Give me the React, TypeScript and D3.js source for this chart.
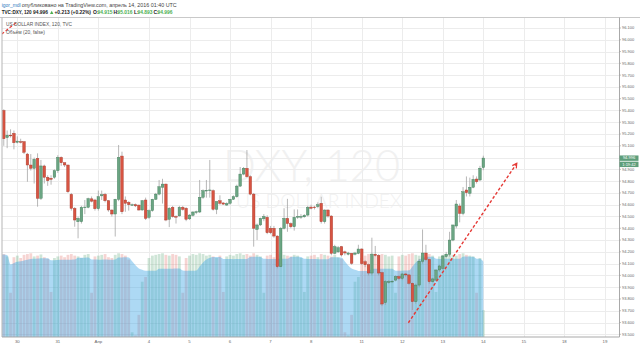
import React from 'react';
import * as d3 from 'd3';

const W = 640;
const H = 347;

// [open, high, low, close] per 2h bar
const candles: [number, number, number, number][] = [
  [95.90, 96.00, 95.35, 95.40], [95.40, 95.41, 95.10, 95.16], [95.17, 95.23, 95.08, 95.19], [95.19, 95.24, 95.17, 95.185],
  [95.206, 95.23, 95.07, 95.126], [95.13, 95.18, 95.12, 95.14], [95.135, 95.16, 95.12, 95.13], [95.135, 95.14, 95.03, 95.045],
  [95.03, 95.04, 94.795, 94.937], [94.937, 95.03, 94.89, 94.909], [94.909, 95.00, 94.78, 94.985], [94.994, 95.036, 94.583, 94.654],
  [94.654, 94.98, 94.64, 94.929], [94.929, 94.94, 94.78, 94.833], [94.833, 94.85, 94.76, 94.804], [94.825, 94.85, 94.77, 94.815],
  [94.833, 94.90, 94.82, 94.889], [94.889, 95.02, 94.87, 95.002], [95.002, 95.01, 94.93, 94.956], [94.956, 94.96, 94.92, 94.937],
  [94.937, 94.94, 94.70, 94.71], [94.688, 94.70, 94.55, 94.569], [94.569, 94.58, 94.413, 94.47], [94.456, 94.50, 94.315, 94.484],
  [94.456, 94.59, 94.44, 94.578], [94.575, 94.64, 94.52, 94.58], [94.578, 94.66, 94.57, 94.651], [94.65, 94.67, 94.62, 94.63],
  [94.64, 94.65, 94.55, 94.566], [94.566, 94.72, 94.55, 94.668], [94.675, 94.72, 94.64, 94.685], [94.688, 94.70, 94.62, 94.634],
  [94.634, 94.64, 94.54, 94.555], [94.555, 94.56, 94.50, 94.521], [94.521, 94.65, 94.33, 94.646], [94.646, 95.107, 94.63, 95.002],
  [95.013, 95.05, 94.52, 94.54], [94.64, 94.67, 94.54, 94.612], [94.62, 94.63, 94.55, 94.60], [94.60, 94.61, 94.59, 94.60],
  [94.60, 94.61, 94.58, 94.59], [94.597, 94.60, 94.55, 94.555], [94.555, 94.64, 94.55, 94.634], [94.64, 94.66, 94.47, 94.484],
  [94.493, 94.56, 94.48, 94.55], [94.55, 94.65, 94.54, 94.646], [94.646, 94.70, 94.64, 94.69], [94.69, 94.81, 94.68, 94.753],
  [94.748, 94.82, 94.61, 94.775], [94.775, 94.78, 94.46, 94.47], [94.476, 94.58, 94.41, 94.57], [94.578, 94.59, 94.49, 94.499],
  [94.50, 94.51, 94.44, 94.498], [94.505, 94.59, 94.50, 94.578], [94.578, 94.59, 94.55, 94.56], [94.57, 94.58, 94.46, 94.476],
  [94.48, 94.52, 94.47, 94.512], [94.51, 94.545, 94.50, 94.538], [94.535, 94.55, 94.52, 94.54], [94.538, 94.81, 94.53, 94.663],
  [94.663, 94.73, 94.65, 94.719], [94.72, 94.81, 94.66, 94.722], [94.72, 94.98, 94.66, 94.725], [94.719, 94.73, 94.55, 94.561],
  [94.561, 94.63, 94.52, 94.626], [94.634, 94.68, 94.60, 94.612], [94.615, 94.62, 94.60, 94.605], [94.597, 94.62, 94.59, 94.61],
  [94.612, 94.65, 94.60, 94.646], [94.646, 94.68, 94.64, 94.668], [94.668, 94.77, 94.66, 94.758], [94.758, 94.92, 94.75, 94.86],
  [94.86, 94.92, 94.85, 94.909], [94.909, 95.064, 94.83, 94.838], [94.838, 94.85, 94.68, 94.69], [94.69, 94.70, 94.244, 94.40],
  [94.39, 94.44, 94.30, 94.428], [94.428, 94.49, 94.42, 94.484], [94.48, 94.52, 94.46, 94.50], [94.493, 94.51, 94.35, 94.362],
  [94.40, 94.42, 94.35, 94.362], [94.40, 94.42, 94.32, 94.334], [94.334, 94.34, 94.06, 94.074], [94.074, 94.41, 94.07, 94.40],
  [94.40, 94.57, 94.39, 94.484], [94.484, 94.65, 94.37, 94.44], [94.44, 94.45, 94.40, 94.413], [94.413, 94.56, 94.38, 94.493],
  [94.495, 94.56, 94.48, 94.50], [94.495, 94.52, 94.48, 94.50], [94.497, 94.52, 94.49, 94.51], [94.512, 94.59, 94.50, 94.578],
  [94.58, 94.60, 94.56, 94.57], [94.58, 94.59, 94.56, 94.575], [94.584, 94.62, 94.57, 94.60], [94.612, 94.668, 94.44, 94.456],
  [94.456, 94.56, 94.44, 94.555], [94.555, 94.56, 94.49, 94.504], [94.504, 94.51, 94.17, 94.187], [94.187, 94.26, 94.18, 94.244],
  [94.20, 94.25, 94.19, 94.235], [94.244, 94.25, 94.16, 94.173], [94.20, 94.21, 94.17, 94.19], [94.18, 94.20, 94.17, 94.19],
  [94.187, 94.19, 94.09, 94.102], [94.18, 94.20, 94.17, 94.19], [94.187, 94.26, 94.18, 94.224], [94.224, 94.23, 94.09, 94.10],
  [94.116, 94.13, 94.07, 94.09], [94.09, 94.10, 94.00, 94.02], [94.02, 94.32, 94.00, 94.178], [94.18, 94.25, 94.16, 94.17],
  [94.17, 94.18, 94.00, 94.02], [94.023, 94.03, 93.74, 93.757], [93.769, 93.96, 93.75, 93.947], [93.94, 93.96, 93.93, 93.947],
  [93.947, 93.96, 93.94, 93.95], [93.96, 94.00, 93.95, 93.99], [93.99, 94.00, 93.96, 93.975], [93.975, 94.02, 93.96, 94.012],
  [94.012, 94.02, 93.99, 94.004], [94.004, 94.01, 93.92, 93.933], [93.933, 93.94, 93.706, 93.777], [93.777, 93.93, 93.76, 93.918],
  [93.918, 94.14, 93.90, 94.12], [94.12, 94.39, 94.10, 94.19], [94.19, 94.26, 94.12, 94.135], [94.135, 94.14, 93.93, 93.947],
  [93.947, 93.98, 93.94, 93.97], [93.96, 94.05, 93.95, 94.046], [94.046, 94.09, 94.03, 94.08], [94.06, 94.17, 94.05, 94.165],
  [94.16, 94.20, 94.15, 94.18], [94.18, 94.37, 94.16, 94.30], [94.30, 94.43, 94.29, 94.428], [94.419, 94.64, 94.40, 94.606],
  [94.589, 94.61, 94.45, 94.526], [94.526, 94.75, 94.51, 94.71], [94.725, 94.84, 94.67, 94.702], [94.697, 94.83, 94.67, 94.748],
  [94.748, 94.85, 94.74, 94.815], [94.818, 94.84, 94.78, 94.795], [94.81, 94.93, 94.80, 94.91], [94.915, 95.016, 94.893, 94.996],
];

const volumes: number[] = [
  1040, 1050, 1020, 560, 1010, 1030, 1000, 1040, 1050, 1060, 1020, 1030, 1045, 1010, 990,
  570, 1000, 1020, 1030, 1010, 1040, 1050, 1030, 1020, 1000, 1040, 1050,
  560, 1020, 1030, 1040, 1050, 1010, 1000, 1040, 1060, 1050, 1030, 980,
  60, 20, 280, 700, 760,
  1000, 1030, 1040, 1050, 1060, 1040, 1030, 1050, 1040, 1020,
  560, 1000, 1030, 1050, 1040, 1060, 1050, 1030, 1040, 1020, 1000, 1030,
  570, 1020, 1040, 1030, 1050, 1060, 1040, 1050, 1030, 1060, 1040, 1020,
  560, 1030, 1040, 1010, 1050, 1060, 1040, 1030, 1020, 1040, 1030, 1000,
  570, 1020, 1030, 1040, 1010, 1050, 1040, 1030, 1020, 1040, 1010, 990,
  60, 20, 280, 700, 760,
  1000, 1030, 1050, 1060, 1040, 1030, 1050, 1040, 1020, 1030,
  560, 1020, 1040, 1030, 1050, 1060, 1040, 1030, 1020, 1040, 1050, 1030,
  570, 1020, 1040, 1050, 1060, 1040, 1030, 1050, 1060, 1040, 1030, 1020,
  560, 1000, 340,
];

const priceTicks = [96.1, 96.0, 95.9, 95.8, 95.7, 95.6, 95.5, 95.4, 95.3, 95.2, 95.1, 95.0, 94.9, 94.8,
  94.7, 94.6, 94.5, 94.4, 94.3, 94.2, 94.1, 94.0, 93.9, 93.8, 93.7, 93.6, 93.5];
const dateLabels = ['30', '31', 'Апр', '4', '5', '6', '7', '8', '11', '12', '13', '14', '15', '18', '19'];
const dateIndex = [5, 17, 29, 44, 56, 68, 80, 92, 107, 119, 131, 143, 155, 167, 179];

const trendLine = [{ i: 120.8, p: 93.598 }, { i: 152.9, p: 94.951 }];
const cornerLine = [{ i: 0.385, p: 96.049 }, { i: 5.0, p: 96.153 }];
const lastPrice = 94.996;
const countdown = '1:19:42';
const maLength = 20;

const UP = '#6ba583';
const UP_EDGE = '#3f7a58';
const DOWN = '#d75442';
const DOWN_EDGE = '#a8392b';
const GREEN_TXT = '#4caf50';
const FONT = '"Liberation Sans", Arial, sans-serif';

export default function App() {
  const left = 2, top = 17.5, right = 619.5, bottom = 337;
  const x = d3.scaleLinear().domain([0, 179]).range([0.4, 604.9]);
  const y = d3.scaleLinear().domain([93.5, 96.1]).range([334.3, 28]);
  const yv = d3.scaleLinear().domain([0, 1000]).range([bottom, 258]);
  const step = x(1) - x(0);

  const ma = volumes.map((_, i) => d3.mean(volumes.slice(Math.max(0, i - maLength + 1), i + 1)) as number);
  const maArea = d3.area<number>().x((_, i) => x(i)).y0(bottom).y1(d => yv(d)).curve(d3.curveMonotoneX)(ma) || '';

  const trendPts = trendLine.map(d => [x(d.i), y(d.p)]);
  const [tx0, ty0] = trendPts[0];
  const [tx1, ty1] = trendPts[1];
  const ang = Math.atan2(ty1 - ty0, tx1 - tx0);
  const ah = 5;
  const arrowHead = `M${tx1 - ah * Math.cos(ang - 0.5)},${ty1 - ah * Math.sin(ang - 0.5)}L${tx1},${ty1}L${tx1 - ah * Math.cos(ang + 0.5)},${ty1 - ah * Math.sin(ang + 0.5)}`;

  const bw = 2.6;
  const vw = step - 0.6;

  return (
    <svg width={W} height={H} viewBox={`0 0 ${W} ${H}`} style={{ position: 'absolute', left: 0, top: 0, background: '#fff' }} fontFamily={FONT}>
      <style>{`body{margin:0}`}</style>
      <defs>
        <clipPath id="pane"><rect x={left} y={top} width={right - left} height={bottom - top} /></clipPath>
      </defs>
      <rect x={0} y={0} width={W} height={H} fill="#fff" />

      {/* header */}
      <text x={1.7} y={6.8} fontSize={5} fill="#2f7bc1" textLength={19} lengthAdjust="spacingAndGlyphs">igor_mdl</text>
      <text x={21.7} y={6.8} fontSize={5} fill="#444" textLength={155} lengthAdjust="spacingAndGlyphs">опубликовано на TradingView.com, апрель 14, 2016 01:40 UTC</text>
      <g fontSize={5} fontWeight="bold">
        <text x={1.7} y={13.8} fill="#222" textLength={30} lengthAdjust="spacingAndGlyphs">TVC:DXY, 120</text>
        <text x={33} y={13.8} fill="#222" textLength={15} lengthAdjust="spacingAndGlyphs">{lastPrice.toFixed(3)}</text>
        <path d="M50,14 L51.7,10.8 L53.4,14 Z" fill={GREEN_TXT} />
        <text x={54.5} y={13.8} fill="#222" textLength={36.5} lengthAdjust="spacingAndGlyphs">+0.213 (+0.22%)</text>
        <text x={93} y={13.8} fill="#222">O:</text>
        <text x={97.5} y={13.8} fill={GREEN_TXT} textLength={15} lengthAdjust="spacingAndGlyphs">{candles[143][0].toFixed(3)}</text>
        <text x={113.5} y={13.8} fill="#222">H:</text>
        <text x={117.5} y={13.8} fill={GREEN_TXT} textLength={15} lengthAdjust="spacingAndGlyphs">{candles[143][1].toFixed(3)}</text>
        <text x={134} y={13.8} fill="#222">L:</text>
        <text x={137.5} y={13.8} fill={GREEN_TXT} textLength={15} lengthAdjust="spacingAndGlyphs">{candles[143][2].toFixed(3)}</text>
        <text x={153.5} y={13.8} fill="#222">C:</text>
        <text x={157.5} y={13.8} fill={GREEN_TXT} textLength={15} lengthAdjust="spacingAndGlyphs">{candles[143][3].toFixed(3)}</text>
      </g>

      {/* pane */}
      <g clipPath="url(#pane)">
        {/* watermark */}
        <text x={223} y={180.5} fontSize={44} fontFamily="Lato, sans-serif" fontWeight={300} fill="#f1f1f1" textLength={177} lengthAdjust="spacingAndGlyphs">DXY, 120</text>
        <text x={236} y={208} fontSize={19} fontFamily="Lato, sans-serif" fontWeight={300} fill="#f1f1f1" textLength={166} lengthAdjust="spacingAndGlyphs">US DOLLAR INDEX</text>

        {/* grid */}
        {priceTicks.map(p => (
          <line key={'h' + p} x1={left} x2={right} y1={Math.round(y(p)) + 0.5} y2={Math.round(y(p)) + 0.5} stroke="#ececec" strokeWidth={1} />
        ))}
        {dateIndex.map(i => (
          <line key={'v' + i} x1={Math.round(x(i)) + 0.5} x2={Math.round(x(i)) + 0.5} y1={top} y2={bottom} stroke="#ececec" strokeWidth={1} />
        ))}

        {/* volume */}
        {volumes.map((v, i) => {
          const c = candles[i];
          const up = c[3] >= c[0];
          return (
            <rect key={'vol' + i} x={x(i) - vw / 2} y={yv(v)} width={vw} height={bottom - yv(v)}
              fill={up ? 'rgba(107,175,131,0.32)' : 'rgba(220,90,80,0.26)'} />
          );
        })}
        <path d={maArea} fill="rgba(60,165,228,0.42)" />

        {/* candles */}
        {candles.map((c, i) => {
          const [o, h, l, cl] = c;
          const up = cl >= o;
          const cx = x(i);
          const y0 = y(Math.max(o, cl));
          const y1 = y(Math.min(o, cl));
          return (
            <g key={'c' + i}>
              <line x1={cx} x2={cx} y1={y(h)} y2={y(l)} stroke="#999" strokeWidth={0.7} />
              <rect x={cx - bw / 2} y={y0} width={bw} height={Math.max(0.7, y1 - y0)}
                fill={up ? UP : DOWN} stroke={up ? UP_EDGE : DOWN_EDGE} strokeWidth={0.4} />
            </g>
          );
        })}

        {/* drawings */}
        <line x1={tx0} y1={ty0} x2={tx1} y2={ty1} stroke="#e53935" strokeWidth={1.4} strokeDasharray="3,2" />
        <path d={arrowHead} fill="none" stroke="#e53935" strokeWidth={1.2} />
        <line x1={x(cornerLine[0].i)} y1={y(cornerLine[0].p)} x2={x(cornerLine[1].i)} y2={y(cornerLine[1].p)} stroke="#e53935" strokeWidth={1.2} strokeDasharray="3,2" />

        {/* legend */}
        <text x={6} y={25.8} fontSize={5} fill="#555" textLength={66} lengthAdjust="spacingAndGlyphs">US DOLLAR INDEX, 120, TVC</text>
        <text x={6} y={33.8} fontSize={5} fill="#555" textLength={39} lengthAdjust="spacingAndGlyphs">Объём (20, false)</text>
      </g>

      {/* borders */}
      <line x1={0} x2={W} y1={top} y2={top} stroke="#c9c9c9" strokeWidth={1} />
      <line x1={left} x2={left} y1={top} y2={bottom} stroke="#b5b5b5" strokeWidth={1} />
      <line x1={right} x2={right} y1={top} y2={bottom} stroke="#a9a9a9" strokeWidth={1} />
      <line x1={left} x2={right} y1={bottom} y2={bottom} stroke="#a9a9a9" strokeWidth={1} />

      {/* price axis */}
      {priceTicks.map(p => (
        <g key={'pt' + p}>
          <line x1={right} x2={right + 1.5} y1={y(p)} y2={y(p)} stroke="#999" strokeWidth={0.6} />
          <text x={622} y={y(p) + 1.4} fontSize={4} fill="#666">{p.toFixed(3)}</text>
        </g>
      ))}
      <rect x={right} y={y(lastPrice) - 2.6} width={19} height={5.4} fill="#5e9e7b" />
      <text x={right + 9.5} y={y(lastPrice) + 1.4} fontSize={4} fill="#fff" textAnchor="middle">{lastPrice.toFixed(3)}</text>
      <rect x={right} y={y(lastPrice) + 3.6} width={19} height={5.4} fill="#5e9e7b" />
      <text x={right + 9.5} y={y(lastPrice) + 7.6} fontSize={4} fill="#fff" textAnchor="middle">{countdown}</text>

      {/* time axis */}
      {dateIndex.map((i, k) => (
        <text key={'dl' + i} x={x(i)} y={342.5} fontSize={4.3} fill="#666" textAnchor="middle">{dateLabels[k]}</text>
      ))}
    </svg>
  );
}
